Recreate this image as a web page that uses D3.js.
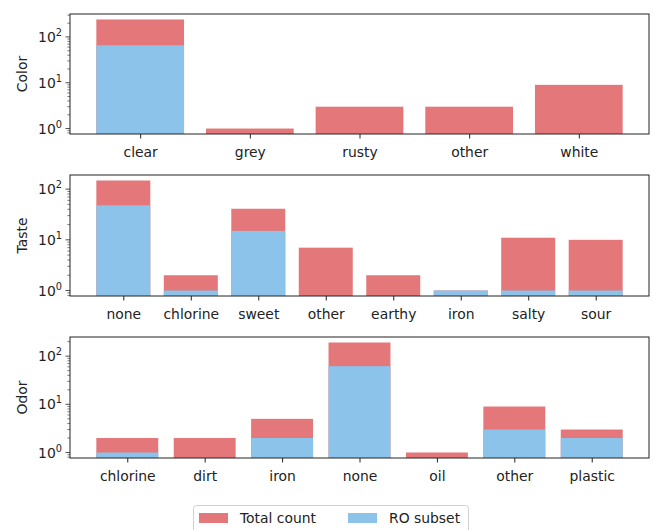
<!DOCTYPE html>
<html>
<head>
<meta charset="utf-8">
<script src="https://cdn.jsdelivr.net/npm/d3@7"></script>
<style>
  html, body { margin: 0; padding: 0; background: #fff; }
  svg { display: block; }
  text { font-family: "DejaVu Sans", sans-serif; fill: #222; }
</style>
</head>
<body>
<svg id="chart" width="654" height="530"></svg>
<script>
// Water survey: counts per category, with the RO (reverse osmosis) subset overlaid
const colorCategories = ["clear", "grey", "rusty", "other", "white"];
const colorTotal      = [241, 1, 3, 3, 9];
const colorRO         = [66, 0, 0, 0, 0];

const tasteCategories = ["none", "chlorine", "sweet", "other", "earthy", "iron", "salty", "sour"];
const tasteTotal      = [148, 2, 41, 7, 2, 1, 11, 10];
const tasteRO         = [48, 1, 15, 0, 0, 1, 1, 1];

const odorCategories  = ["chlorine", "dirt", "iron", "none", "oil", "other", "plastic"];
const odorTotal       = [2, 2, 5, 192, 1, 9, 3];
const odorRO          = [1, 0, 2, 62, 0, 3, 2];

const seriesNames = ["Total count", "RO subset"];

const RED = "#e3777a";
const BLUE = "#8bc3ea";
const FONT = 13.9;

const svg = d3.select("#chart");

const panels = [
  { label: "Color", cats: colorCategories, total: colorTotal, ro: colorRO, top: 14, bottom: 134 },
  { label: "Taste", cats: tasteCategories, total: tasteTotal, ro: tasteRO, top: 175, bottom: 296 },
  { label: "Odor",  cats: odorCategories,  total: odorTotal,  ro: odorRO,  top: 337, bottom: 458 }
];

const left = 70, right = 649;
const barW = 0.8;

panels.forEach(p => {
  const n = p.cats.length;
  // x limits: bar extents plus 5% margins
  const lo = -barW / 2, hi = n - 1 + barW / 2;
  const mx = 0.05 * (hi - lo);
  const x = d3.scaleLinear().domain([lo - mx, hi + mx]).range([left, right]);

  // log y limits: from 1 up to the largest count, with 5% margins in log space
  const L = Math.log10(d3.max(p.total));
  const y = d3.scaleLog()
    .domain([Math.pow(10, -0.05 * L), Math.pow(10, 1.05 * L)])
    .range([p.bottom, p.top]);

  const g = svg.append("g");
  const base = p.bottom;

  // total count bars
  g.selectAll("rect.total").data(p.total).enter().append("rect")
    .attr("class", "total")
    .attr("x", (d, i) => x(i - barW / 2))
    .attr("width", x(barW) - x(0))
    .attr("y", d => d > 0 ? y(d) : base)
    .attr("height", d => d > 0 ? base - y(d) : 0)
    .attr("fill", RED);

  // RO subset bars drawn over the totals
  g.selectAll("rect.ro").data(p.ro).enter().append("rect")
    .attr("class", "ro")
    .attr("x", (d, i) => x(i - barW / 2))
    .attr("width", x(barW) - x(0))
    .attr("y", d => d > 0 ? y(d) : base)
    .attr("height", d => d > 0 ? base - y(d) : 0)
    .attr("fill", BLUE);

  // frame
  g.append("rect")
    .attr("x", left).attr("y", p.top)
    .attr("width", right - left).attr("height", p.bottom - p.top)
    .attr("fill", "none").attr("stroke", "#222").attr("stroke-width", 1);

  // x axis ticks and labels
  const xAxis = d3.axisBottom(x)
    .tickValues(d3.range(n))
    .tickFormat(i => p.cats[i])
    .tickSize(4.5).tickPadding(8.5);
  const xa = g.append("g").attr("transform", `translate(0,${p.bottom})`).call(xAxis);
  xa.select(".domain").remove();
  xa.selectAll(".tick line").attr("stroke", "#222");
  xa.selectAll(".tick text").attr("font-size", FONT).attr("fill", "#222")
    .attr("font-family", "DejaVu Sans, sans-serif");

  // y axis: major decades with 10^k labels, minor ticks in between
  const [d0, d1] = y.domain();
  const majors = [], minors = [];
  for (let k = Math.floor(Math.log10(d0)) - 1; k <= Math.ceil(Math.log10(d1)); k++) {
    for (let m = 1; m <= 9; m++) {
      const v = m * Math.pow(10, k);
      if (v < d0 || v > d1) continue;
      (m === 1 ? majors : minors).push(v);
    }
  }
  const ya = g.append("g").attr("transform", `translate(${left},0)`);
  ya.selectAll("line.minor").data(minors).enter().append("line")
    .attr("x1", -2.6).attr("x2", 0)
    .attr("y1", d => y(d)).attr("y2", d => y(d))
    .attr("stroke", "#222").attr("stroke-width", 0.6);
  ya.selectAll("line.major").data(majors).enter().append("line")
    .attr("x1", -4.5).attr("x2", 0)
    .attr("y1", d => y(d)).attr("y2", d => y(d))
    .attr("stroke", "#222").attr("stroke-width", 0.8);
  const lab = ya.selectAll("text.major").data(majors).enter().append("text")
    .attr("x", -8).attr("y", d => y(d) + 5)
    .attr("text-anchor", "end")
    .attr("font-size", FONT);
  lab.append("tspan").text("10");
  lab.append("tspan").attr("dy", -6).attr("font-size", 9.8)
    .text(d => String(Math.round(Math.log10(d))));

  // y axis title
  g.append("text")
    .attr("transform", `translate(27,${(p.top + p.bottom) / 2}) rotate(-90)`)
    .attr("text-anchor", "middle")
    .attr("font-size", FONT)
    .text(p.label);
});

// legend
const leg = svg.append("g");
leg.append("rect")
  .attr("x", 193.5).attr("y", 505.5).attr("width", 275).attr("height", 34)
  .attr("rx", 3).attr("fill", "#fff").attr("stroke", "#d0d0d0").attr("stroke-width", 1);
const legendColors = [RED, BLUE];
const legendX = [199, 348];
seriesNames.forEach((name, i) => {
  leg.append("rect")
    .attr("x", legendX[i]).attr("y", 513)
    .attr("width", 29).attr("height", 10)
    .attr("fill", legendColors[i]);
  leg.append("text")
    .attr("x", legendX[i] + 41).attr("y", 523)
    .attr("font-size", FONT)
    .text(name);
});
</script>
</body>
</html>
